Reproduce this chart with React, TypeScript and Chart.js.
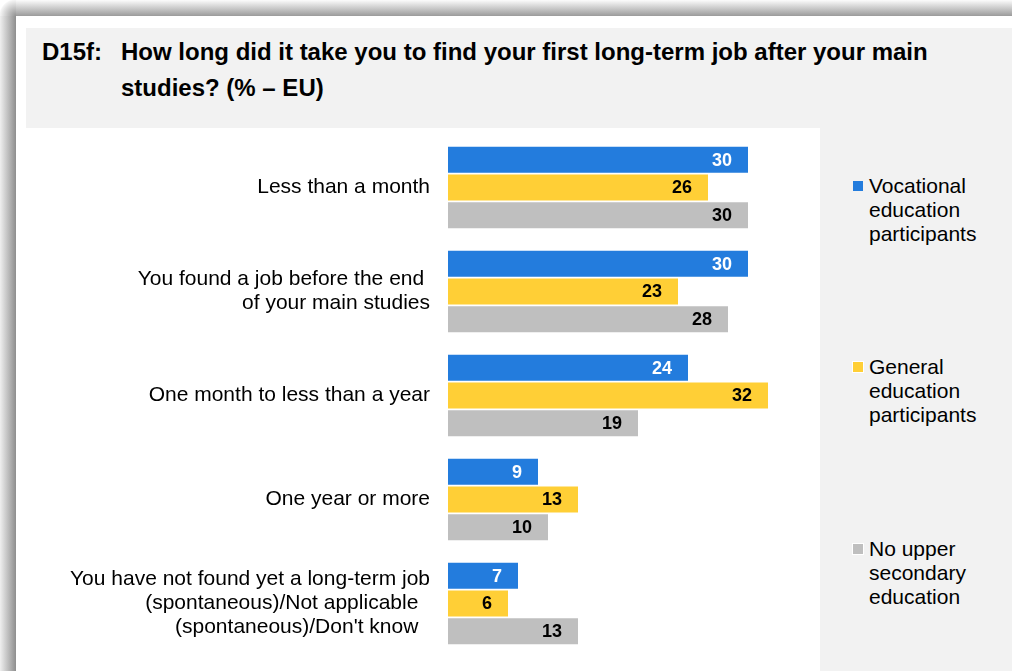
import React, { useEffect, useRef } from "react";
import { Chart, registerables } from "chart.js";

Chart.register(...registerables);

const categories: (string | string[])[] = [
  "Less than a month",
  ["You found a job before the end ", "of your main studies"],
  "One month to less than a year",
  "One year or more",
  [
    "You have not found yet a long-term job",
    "(spontaneous)/Not applicable  ",
    "(spontaneous)/Don't know  ",
  ],
];

const seriesNames = [
  ["Vocational", "education", "participants"],
  ["General", "education", "participants"],
  ["No upper", "secondary", "education"],
];

const vocational = [30, 30, 24, 9, 7];
const general = [26, 23, 32, 13, 6];
const noUpper = [30, 28, 19, 10, 13];

const colors = ["#237CDD", "#FFCF36", "#BFBFBF"];
const labelColors = ["#FFFFFF", "#000000", "#000000"];

const FONT = '"Liberation Sans", Arial, Helvetica, sans-serif';

const valueLabels = {
  id: "valueLabels",
  afterDatasetsDraw(chart: any) {
    const ctx = chart.ctx;
    ctx.save();
    ctx.font = `bold 18px ${FONT}`;
    ctx.textAlign = "right";
    ctx.textBaseline = "middle";
    chart.data.datasets.forEach((ds: any, i: number) => {
      const meta = chart.getDatasetMeta(i);
      meta.data.forEach((bar: any, j: number) => {
        ctx.fillStyle = labelColors[i];
        ctx.fillText(String(ds.data[j]), bar.x - 16, bar.y + 1);
      });
    });
    ctx.restore();
  },
};

export default function App() {
  const canvasRef = useRef<HTMLCanvasElement | null>(null);

  useEffect(() => {
    if (!canvasRef.current) return;
    const seriesData = [vocational, general, noUpper];
    const chart = new Chart(canvasRef.current, {
      type: "bar",
      data: {
        labels: categories,
        datasets: seriesData.map((d, i) => ({
          label: seriesNames[i].join(" "),
          data: d,
          backgroundColor: colors[i],
          borderWidth: 0,
          barPercentage: 0.94,
          categoryPercentage: 0.8,
        })),
      },
      options: {
        indexAxis: "y",
        animation: false,
        responsive: false,
        devicePixelRatio: 1,
        layout: { padding: { top: 7.5, bottom: 15.5, right: 12, left: 0 } },
        plugins: {
          legend: { display: false },
          tooltip: { enabled: false },
          title: { display: false },
        },
        scales: {
          x: {
            min: 0,
            max: 36,
            display: false,
            grid: { display: false },
          },
          y: {
            grid: { display: false, drawTicks: false },
            border: { display: false },
            afterFit: (scale: any) => {
              scale.width = 422;
              scale.paddingTop = 0;
              scale.paddingBottom = 0;
            },
            ticks: {
              autoSkip: false,
              padding: 18,
              color: "#000000",
              font: { family: FONT, size: 21, lineHeight: "24px" as any },
            },
          },
        },
      } as any,
      plugins: [valueLabels],
    });
    return () => chart.destroy();
  }, []);

  const legendTops = [174, 355, 537];
  const squareTops = [181, 362, 544];

  return (
    <div
      style={{
        position: "fixed",
        left: 0,
        top: 0,
        width: 1012,
        height: 671,
        overflow: "hidden",
        background: "#ffffff",
        fontFamily: FONT,
      }}
    >
      {/* shadow of frame */}
      <div
        style={{
          position: "absolute",
          left: 0,
          top: 16,
          width: 16,
          height: 655,
          background: "linear-gradient(to right, #efefef, #8e8e8e)",
        }}
      />
      <div
        style={{
          position: "absolute",
          left: 16,
          top: 0,
          width: 996,
          height: 16,
          background: "linear-gradient(to bottom, #fcfcfc, #9b9b9b)",
        }}
      />
      <div
        style={{
          position: "absolute",
          left: 0,
          top: 0,
          width: 16,
          height: 16,
          background:
            "radial-gradient(circle at 100% 100%, #919191 0px, #f5f5f5 16px, #ffffff 17px)",
        }}
      />
      {/* title box */}
      <div
        style={{
          position: "absolute",
          left: 26,
          top: 28,
          width: 986,
          height: 100,
          background: "#F2F2F2",
        }}
      />
      {/* legend box */}
      <div
        style={{
          position: "absolute",
          left: 820,
          top: 128,
          width: 192,
          height: 543,
          background: "#F2F2F2",
        }}
      />
      {/* title */}
      <div
        style={{
          position: "absolute",
          left: 42,
          top: 34,
          fontWeight: "bold",
          fontSize: 24,
          lineHeight: "36px",
          color: "#000",
          whiteSpace: "nowrap",
        }}
      >
        D15f:
      </div>
      <div
        style={{
          position: "absolute",
          left: 121,
          top: 34,
          width: 806,
          fontWeight: "bold",
          fontSize: 24,
          lineHeight: "36px",
          color: "#000",
          textAlign: "justify",
          textAlignLast: "justify" as any,
          whiteSpace: "nowrap",
        }}
      >
        How long did it take you to find your first long-term job after your main
      </div>
      <div
        style={{
          position: "absolute",
          left: 121,
          top: 70,
          fontWeight: "bold",
          fontSize: 24,
          lineHeight: "36px",
          color: "#000",
          whiteSpace: "nowrap",
        }}
      >
        studies? (% – EU)
      </div>
      {/* chart */}
      <canvas
        ref={canvasRef}
        width={794}
        height={543}
        style={{ position: "absolute", left: 26, top: 128, width: 794, height: 543 }}
      />
      {/* legend */}
      {seriesNames.map((lines, i) => (
        <React.Fragment key={i}>
          <div
            style={{
              position: "absolute",
              left: 853,
              top: squareTops[i],
              width: 10,
              height: 10,
              background: colors[i],
              outline: i === 0 ? "none" : "1px solid #ffffff",
            }}
          />
          <div
            style={{
              position: "absolute",
              left: 869,
              top: legendTops[i],
              fontSize: 21,
              lineHeight: "24px",
              color: "#000",
              whiteSpace: "nowrap",
            }}
          >
            {lines.map((l, k) => (
              <div key={k}>{l}</div>
            ))}
          </div>
        </React.Fragment>
      ))}
    </div>
  );
}
